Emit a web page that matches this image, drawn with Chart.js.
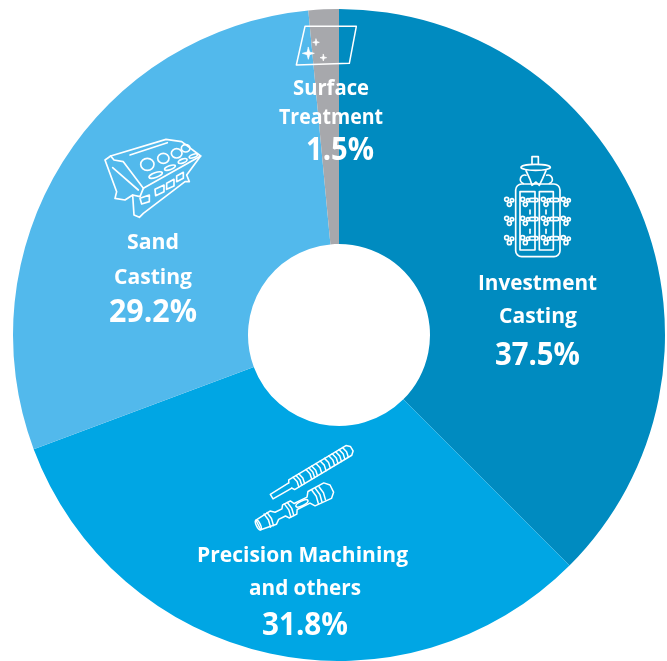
<!DOCTYPE html>
<html>
<head>
<meta charset="utf-8">
<title>Revenue by process</title>
<script src="https://cdn.jsdelivr.net/npm/chart.js@4/dist/chart.umd.min.js"></script>
<style>
  html, body { margin: 0; padding: 0; background: #fff; overflow: hidden; }
  canvas { display: block; }
</style>
</head>
<body>
<canvas id="processChart" width="667" height="661"></canvas>
<script>
const categories = ['Investment Casting', 'Precision Machining and others', 'Sand Casting', 'Surface Treatment'];
const shares = [37.5, 31.8, 29.2, 1.5];
const sliceColors = ['#008BC0', '#00A6E4', '#52B9EC', '#A7A8AC'];
const labelLines = [['Investment', 'Casting'], ['Precision Machining', 'and others'], ['Sand', 'Casting'], ['Surface', 'Treatment']];

// per label: [x, baseline, width] for name line 1, name line 2 and the percentage
const labelSpots = [
  [[537.5, 290, 119], [538, 323, 78], [537.5, 365, 85]],
  [[302.5, 562, 211], [305, 595, 112], [305, 635, 86]],
  [[153, 249, 52], [153, 284, 78], [153, 322, 88]],
  [[331, 95, 76], [331, 124, 104], [340, 160, 68]]
];

const FONT = '"Open Sans", "Noto Sans", sans-serif';

function poly(ctx, pts, close) {
  ctx.beginPath();
  pts.forEach((p, i) => i ? ctx.lineTo(p[0], p[1]) : ctx.moveTo(p[0], p[1]));
  if (close) ctx.closePath();
  ctx.stroke();
}

function oval(ctx, x, y, rx, ry, rot) {
  ctx.beginPath();
  ctx.ellipse(x, y, rx, ry, rot || 0, 0, Math.PI * 2);
  ctx.stroke();
}

function sparkle(ctx, x, y, r) {
  const k = r * 0.22;
  ctx.beginPath();
  ctx.moveTo(x, y - r);
  ctx.lineTo(x + k, y - k);
  ctx.lineTo(x + r, y);
  ctx.lineTo(x + k, y + k);
  ctx.lineTo(x, y + r);
  ctx.lineTo(x - k, y + k);
  ctx.lineTo(x - r, y);
  ctx.lineTo(x - k, y - k);
  ctx.closePath();
  ctx.fill();
  ctx.stroke();
}

// icons are traced on a 3x grid, so each one is drawn scaled down from its corner
function onGrid(ctx, x, y, lw, draw) {
  ctx.save();
  ctx.translate(x, y);
  ctx.scale(1 / 3, 1 / 3);
  ctx.lineWidth = lw;
  ctx.lineJoin = 'round';
  ctx.lineCap = 'round';
  draw();
  ctx.restore();
}

function panelIcon(ctx) {
  onGrid(ctx, 270, 0, 4.5, () => {
    poly(ctx, [[105, 79], [259, 79], [238, 190], [79, 195]], true);
    ctx.lineWidth = 2;
    sparkle(ctx, 115, 160, 18);
    sparkle(ctx, 138, 127, 10);
    sparkle(ctx, 160, 173, 10);
  });
}

function treeIcon(ctx) {
  onGrid(ctx, 480, 140, 5, () => {
    poly(ctx, [[156, 72], [156, 50], [175, 50], [175, 72]]);
    oval(ctx, 167, 82, 44, 9);
    poly(ctx, [[138, 92], [150, 118], [156, 136], [168, 126], [178, 136], [188, 115], [198, 92]]);
    ctx.beginPath();
    ctx.arc(134, 118, 13, Math.PI * 0.6, Math.PI * 1.6);
    ctx.stroke();
    ctx.beginPath();
    ctx.arc(204, 118, 13, -Math.PI * 0.6, Math.PI * 0.4);
    ctx.stroke();
    ctx.beginPath();
    ctx.roundRect(107, 132, 133, 218, 18);
    ctx.stroke();
    poly(ctx, [[120, 155], [165, 155], [165, 330], [120, 330]], true);
    poly(ctx, [[178, 155], [220, 155], [220, 330], [178, 330]], true);
    [178, 235, 293].forEach(y => {
      [80, 128, 190, 250].forEach((x, i) => {
        oval(ctx, x, y, 6, 6);
        oval(ctx, x + 16, y + 3, 5, 5);
        oval(ctx, x + 8, y + 15, 6, 6);
        // inner clusters carry a short runner
        if (i === 1 || i === 2) {
          ctx.beginPath();
          ctx.roundRect(x + 20, y - 3, 26, 10, 4);
          ctx.stroke();
        }
      });
    });
    poly(ctx, [[150, 210], [150, 222]]);
    poly(ctx, [[198, 210], [198, 222]]);
    poly(ctx, [[150, 268], [150, 280]]);
    poly(ctx, [[198, 268], [198, 280]]);
  });
}

function engineIcon(ctx) {
  onGrid(ctx, 90, 130, 5, () => {
    poly(ctx, [[45, 90], [62, 78], [228, 28], [275, 35], [332, 78], [290, 135], [298, 155], [285, 155], [160, 250], [148, 262], [132, 255], [128, 195], [105, 210], [75, 205], [80, 185]], true);
    poly(ctx, [[62, 78], [72, 90], [100, 95], [160, 175], [332, 78]]);
    poly(ctx, [[160, 175], [150, 200], [128, 195]]);
    poly(ctx, [[120, 75], [232, 38]]);
    poly(ctx, [[68, 113], [145, 180]]);
    oval(ctx, 172, 103, 20, 18);
    oval(ctx, 220, 85, 17, 15);
    oval(ctx, 260, 70, 16, 14);
    oval(ctx, 287, 55, 13, 11);
    oval(ctx, 197, 135, 21, 7, -0.35);
    oval(ctx, 240, 113, 17, 6, -0.35);
    oval(ctx, 278, 93, 14, 6, -0.35);
    oval(ctx, 310, 78, 13, 5, -0.35);
    poly(ctx, [[150, 205], [178, 195], [178, 215], [155, 222]], true);
    poly(ctx, [[195, 178], [222, 165], [222, 185], [197, 197]], true);
    poly(ctx, [[230, 160], [252, 148], [252, 168], [230, 178]], true);
    poly(ctx, [[260, 138], [280, 127], [280, 145], [260, 155]], true);
  });
}

function toolsIcon(ctx) {
  onGrid(ctx, 240, 430, 4.5, () => {
    // long cutter
    ctx.save();
    ctx.translate(95, 200);
    ctx.rotate(-0.54);
    poly(ctx, [[65, -9], [0, -8], [0, 8], [65, 9]]);
    poly(ctx, [[65, -9], [70, -17], [270, -17], [280, -8], [280, 8], [270, 17], [70, 17], [65, 9]]);
    [85, 95, 105, 130, 140, 150, 165, 180, 195, 210, 222, 234, 246, 258].forEach(x => {
      poly(ctx, [[x, -17], [x + 4, 0], [x, 17]]);
    });
    ctx.restore();
    // stepped holder
    ctx.save();
    ctx.translate(55, 285);
    ctx.rotate(-0.46);
    const top = [[0, -16], [50, -22], [62, -12], [85, -12], [92, -22], [118, -22], [125, -10], [168, -10], [178, -24], [232, -26], [246, -12], [246, 12], [232, 26], [178, 24], [168, 10], [125, 10], [118, 22], [92, 22], [85, 12], [62, 12], [50, 22], [0, 16]];
    poly(ctx, top, true);
    oval(ctx, 0, 0, 6, 16);
    [30, 40, 98, 108, 190, 202, 214].forEach(x => {
      poly(ctx, [[x, -22], [x + 4, 0], [x, 22]]);
    });
    oval(ctx, 146, 0, 20, 7);
    ctx.restore();
  });
}

const overlay = {
  id: 'overlay',
  afterDraw(chart) {
    const ctx = chart.ctx;
    ctx.save();
    ctx.strokeStyle = '#fff';
    ctx.fillStyle = '#fff';
    panelIcon(ctx);
    treeIcon(ctx);
    engineIcon(ctx);
    toolsIcon(ctx);

    ctx.textAlign = 'center';
    ctx.textBaseline = 'alphabetic';
    shares.forEach((v, i) => {
      const [a, b, c] = labelSpots[i];
      ctx.font = '700 22px ' + FONT;
      ctx.fillText(labelLines[i][0], a[0], a[1], a[2]);
      ctx.fillText(labelLines[i][1], b[0], b[1], b[2]);
      ctx.font = '700 33px ' + FONT;
      ctx.fillText(v.toFixed(1) + '%', c[0], c[1], c[2]);
    });
    ctx.restore();
  }
};

new Chart(document.getElementById('processChart'), {
  type: 'doughnut',
  data: {
    labels: categories,
    datasets: [{
      data: shares,
      backgroundColor: sliceColors,
      borderWidth: 0
    }]
  },
  options: {
    responsive: false,
    animation: false,
    cutout: 91,
    layout: { padding: { left: 12, top: 9, right: 1, bottom: 0 } },
    plugins: {
      legend: { display: false },
      tooltip: { enabled: false }
    }
  },
  plugins: [overlay]
});
</script>
</body>
</html>
